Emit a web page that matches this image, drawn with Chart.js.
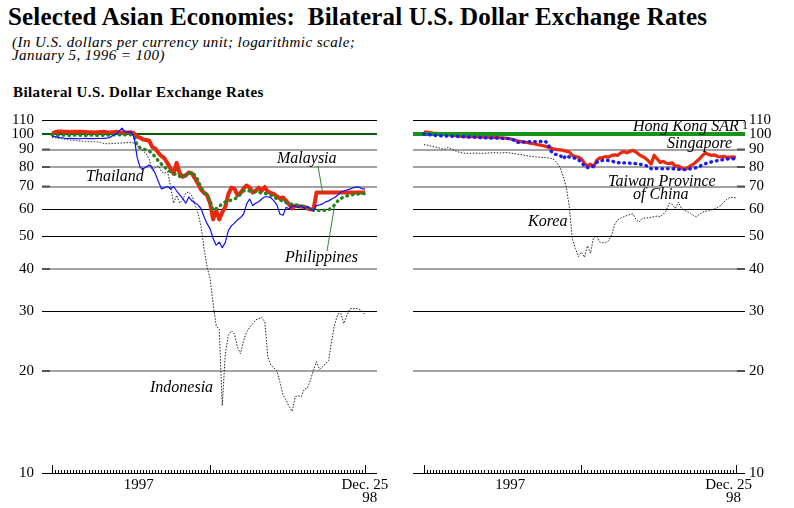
<!DOCTYPE html>
<html><head><meta charset="utf-8">
<script src="https://cdn.jsdelivr.net/npm/chart.js@4.4.1/dist/chart.umd.min.js"></script>
<style>
html,body{margin:0;padding:0;background:#fff;}
body{width:794px;height:508px;position:relative;overflow:hidden;font-family:"Liberation Serif","Times New Roman",serif;color:#000;}
canvas{position:absolute;top:0;}
.t{position:absolute;white-space:nowrap;line-height:1;}
.ann{position:absolute;white-space:nowrap;font-style:italic;font-size:16px;line-height:16px;}
</style></head>
<body>
<div class="t" style="left:8px;top:4px;font-size:25px;font-weight:bold;letter-spacing:0.15px;">Selected Asian Economies:&nbsp; Bilateral U.S. Dollar Exchange Rates</div>
<div class="t" style="left:12px;top:36px;font-size:15px;font-style:italic;line-height:13px;letter-spacing:0.45px;">(In U.S. dollars per currency unit; logarithmic scale;<br>January 5, 1996 = 100)</div>
<div class="t" style="left:13px;top:85px;font-size:15px;font-weight:bold;letter-spacing:0.4px;">Bilateral U.S. Dollar Exchange Rates</div>
<canvas id="leftChart" width="400" height="508" style="left:0px"></canvas>
<canvas id="rightChart" width="394" height="508" style="left:400px"></canvas>
<span class="ann" style="left:86px;top:168px;">Thailand</span>
<span class="ann" style="left:277px;top:150px;">Malaysia</span>
<span class="ann" style="left:285px;top:249px;">Philippines</span>
<span class="ann" style="left:150px;top:379px;">Indonesia</span>
<span class="ann" style="left:633px;top:118px;">Hong Kong SAR</span>
<span class="t" style="left:742px;top:119px;font-size:12px;line-height:12px;">1</span>
<span class="ann" style="left:667px;top:135px;">Singapore</span>
<span class="ann" style="left:608px;top:173px;">Taiwan Province</span>
<span class="ann" style="left:633px;top:186px;">of China</span>
<span class="ann" style="left:528px;top:213px;">Korea</span>
<script>
// ---- x categories: weekly observations, Jan 3 1997 (week 0) to Dec 25 1998 (week 103)
const weekIndex = Array.from({length: 104}, (_, i) => i);
const majorWeeks = [0, 52, 103];
const yearLabelWeek = 28.5;
const endLabelWeek = 103;
const yTickValues = [10, 20, 30, 40, 50, 60, 70, 80, 90, 100, 110];

// ---- left panel series
const thailand = [98.5,98.3,97.8,97.5,97.2,97.0,97.1,96.9,97.0,96.8,
 97.0,97.1,96.9,97.0,96.9,97.1,97.0,97.1,97.2,97.7,
 99.0,100.0,102.0,104.0,101.5,101.3,101.5,97.9,85.3,79.6,
 79.0,80.0,81.0,79.5,76.3,72.3,68.9,69.5,70.0,68.8,
 70.0,67.9,66.2,64.5,62.5,65.2,63.5,62.7,61.8,60.3,
 57.0,54.4,52.5,49.2,47.0,48.0,46.2,47.9,51.9,53.6,
 54.6,55.8,56.7,58.0,62.1,64.3,61.5,62.5,63.1,64.3,
 65.3,65.3,64.8,63.5,61.7,58.0,57.6,60.8,60.1,61.5,
 61.2,60.6,61.5,60.3,61.2,60.1,59.4,61.5,61.8,62.2,
 63.1,63.5,64.3,65.0,66.1,67.4,67.9,68.4,68.8,69.4,
 69.7,69.7,69.0,68.8];
const malaysia = [100.5,101.2,101.8,101.8,101.6,101.5,101.4,101.5,101.5,101.6,
 101.5,101.4,101.3,101.2,101.0,101.2,101.4,101.5,101.2,101.0,
 101.3,101.5,101.2,101.0,101.0,101.0,101.2,100.5,98.3,97.5,
 96.3,96.0,95.5,91.5,90.5,88.0,86.0,84.7,82.0,79.0,
 76.3,82.2,76.5,74.8,75.5,77.0,76.5,74.0,71.5,68.5,
 67.0,66.0,62.5,56.0,59.5,56.0,58.8,61.0,66.5,69.5,
 69.0,66.0,67.0,69.0,70.5,69.5,67.2,68.0,69.5,68.0,
 69.8,67.5,67.0,66.5,65.5,64.5,65.0,63.5,62.0,60.3,
 61.5,61.3,61.0,61.0,60.3,60.0,59.8,67.2,67.2,67.2,
 67.2,67.2,67.2,67.2,67.2,67.2,67.2,67.2,67.2,67.2,
 67.2,67.2,67.2,67.2];
const philippines = [99.5,99.3,99.2,99.2,99.3,99.2,99.1,99.2,99.3,99.2,
 99.2,99.1,99.2,99.3,99.2,99.2,99.1,99.2,99.3,99.4,
 99.5,99.4,99.5,99.5,99.4,99.5,99.5,98.5,92.5,91.0,
 90.3,89.8,89.0,87.5,85.5,83.3,81.5,80.0,78.6,77.3,
 76.5,75.8,75.0,74.5,76.0,76.7,77.0,75.5,73.0,69.5,
 67.5,66.3,63.5,59.5,60.2,61.0,62.5,63.0,63.5,63.8,
 64.3,65.0,66.5,67.9,68.2,67.9,67.5,67.5,67.3,67.0,
 66.8,66.5,66.0,65.2,64.5,64.0,63.3,62.8,62.4,62.0,
 61.8,61.6,61.4,61.0,60.7,60.3,59.7,59.6,59.5,59.5,
 59.6,59.8,60.6,61.8,63.5,64.5,65.2,65.7,66.0,66.3,
 66.5,66.6,66.7,66.7];
const indonesia = [97.8,97.5,97.2,96.9,96.6,96.3,96.0,95.8,95.6,95.4,
 95.3,95.2,95.1,95.0,94.9,94.8,94.5,93.8,93.6,93.7,
 93.8,93.9,94.0,94.1,94.2,94.3,94.5,94.0,92.5,90.5,
 89.0,87.5,84.0,78.0,79.5,80.6,77.5,76.5,77.5,70.0,
 62.5,66.0,62.5,64.0,67.0,67.5,65.7,62.0,58.5,53.5,
 46.0,40.5,37.5,31.5,27.2,26.5,15.8,22.5,25.5,26.3,
 25.7,23.5,22.5,24.6,26.0,26.9,27.6,28.3,28.5,28.8,
 27.9,22.0,20.8,20.4,20.0,18.5,17.0,16.4,15.7,15.2,
 16.8,16.9,16.8,17.7,17.8,18.8,20.1,21.3,20.2,20.6,
 21.0,21.5,24.6,27.5,29.4,29.6,27.6,29.2,30.5,30.6,
 30.6,30.4,30.0,29.3];

// ---- right panel series
const hongKongWeeks = [0, 26, 52, 78, 103];
const hongKong = [100.0, 100.0, 100.0, 100.0, 100.0];
const singapore = [101.4,101.3,101.0,100.7,100.5,100.3,100.0,99.8,99.6,99.3,
 99.0,98.8,98.5,98.4,98.3,98.3,98.2,98.2,98.1,98.0,
 98.0,97.9,97.8,97.8,97.8,97.6,97.5,97.2,97.0,96.5,
 96.0,95.3,95.0,94.7,94.5,94.0,93.6,93.3,92.9,92.5,
 92.1,91.5,91.0,90.2,90.0,89.8,89.5,89.0,88.5,86.5,
 85.8,85.5,84.5,82.0,80.5,81.5,80.0,83.5,85.0,85.2,
 85.8,85.5,86.5,86.8,86.5,88.0,88.8,88.0,88.8,89.5,
 88.5,87.0,86.0,85.0,83.5,81.5,86.5,84.5,82.5,83.0,
 82.0,81.8,82.2,80.3,80.5,79.5,78.6,79.5,80.5,81.5,
 83.0,84.5,86.5,88.0,87.0,86.5,86.8,85.8,85.6,86.0,
 85.3,85.5,85.6,85.4];
const taiwan = [100.0,99.8,99.5,99.3,99.0,98.9,98.8,98.7,98.6,98.5,
 98.5,98.4,98.3,98.2,98.1,98.0,98.0,97.9,97.8,97.6,
 97.5,97.4,97.3,97.4,97.3,97.2,97.1,97.0,96.9,96.8,
 95.5,94.5,94.6,94.8,94.9,94.9,94.9,95.0,95.0,95.1,
 95.3,93.5,89.0,87.2,87.0,86.5,84.5,86.5,85.5,85.0,
 84.9,84.0,82.5,80.5,79.6,80.0,80.5,82.5,83.2,83.6,
 83.8,83.5,83.2,82.7,82.2,82.5,82.2,82.3,82.0,81.9,
 81.8,81.5,81.2,80.8,80.3,79.0,79.0,79.2,79.1,79.0,
 79.1,79.0,79.0,78.9,78.7,78.6,78.5,78.7,79.0,79.2,
 79.6,80.3,81.1,81.8,82.4,82.8,83.2,83.5,83.8,84.1,
 84.4,84.5,84.5,84.5];
const korea = [93.0,92.8,92.2,91.8,91.5,91.0,90.5,90.2,91.3,90.5,
 89.5,88.8,88.2,87.8,87.8,87.7,87.8,87.9,87.8,87.7,
 87.8,87.9,88.0,88.1,88.0,87.9,88.0,88.2,88.0,87.8,
 87.5,87.2,87.0,86.6,86.3,86.0,85.8,85.6,85.5,85.3,
 85.2,85.0,84.8,84.0,82.0,79.5,75.0,69.8,61.0,49.0,
 46.0,43.5,44.8,43.3,46.8,44.5,49.5,50.0,48.0,47.8,
 47.8,48.5,50.5,54.2,55.8,56.5,57.0,57.5,57.9,58.1,
 56.0,55.0,56.3,56.5,56.6,56.8,57.0,57.3,57.0,58.0,
 59.4,62.5,62.0,60.3,63.0,60.3,59.6,59.0,58.4,57.5,
 57.0,58.0,58.8,59.2,59.5,59.7,60.2,60.8,61.5,63.0,
 64.2,65.0,65.0,64.8];

const toXY = (vals, xs) => vals.map((v, i) => ({x: (xs || weekIndex)[i], y: v}));
const FONT = '"Liberation Serif", "Times New Roman", serif';

const grayTicks = [90, 80, 70, 40, 20];
function gridColor(v, refColor) {
  if (v === 100) return refColor;
  return grayTicks.includes(v) ? '#a3a3a3' : '#000000';
}
function gridWidth(v, refWidth) {
  if (v === 100) return refWidth;
  return grayTicks.includes(v) ? 2 : 1;
}

function decorPlugin(side, extra) {
  return {
    id: 'decor' + side,
    beforeDatasetsDraw(chart) {
      const {ctx, chartArea, scales: {y}} = chart;
      ctx.save();
      ctx.strokeStyle = '#555';
      ctx.lineWidth = 2;
      ctx.beginPath();
      for (const v of grayTicks) {
        const py = y.getPixelForValue(v);
        if (side === 'L') { ctx.moveTo(chartArea.left, py); ctx.lineTo(chartArea.left + 8, py); }
        else { ctx.moveTo(chartArea.right - 8, py); ctx.lineTo(chartArea.right, py); }
      }
      ctx.stroke();
      ctx.restore();
    },
    afterDraw(chart) {
      const {ctx, chartArea, scales: {x}} = chart;
      ctx.save();
      ctx.strokeStyle = '#000';
      ctx.lineWidth = 1;
      ctx.beginPath();
      for (const w of weekIndex) {
        const px = Math.round(x.getPixelForValue(w)) + 0.5;
        const len = majorWeeks.includes(w) ? 8 : 3;
        ctx.moveTo(px, chartArea.bottom);
        ctx.lineTo(px, chartArea.bottom - len);
      }
      ctx.stroke();
      ctx.fillStyle = '#000';
      ctx.font = '15px ' + FONT;
      ctx.textBaseline = 'alphabetic';
      ctx.textAlign = 'center';
      ctx.fillText('1997', x.getPixelForValue(yearLabelWeek), chartArea.bottom + 16);
      const endPx = x.getPixelForValue(endLabelWeek);
      const r = endPx + (side === 'L' ? 23 : 16);
      ctx.textAlign = 'right';
      ctx.fillText('Dec. 25', r, chartArea.bottom + 16);
      ctx.fillText('98', r - 11, chartArea.bottom + 29);
      if (extra) extra(chart);
      ctx.restore();
    }
  };
}

function leaders(chart) {
  const {ctx, scales: {x, y}} = chart;
  ctx.strokeStyle = '#2e8b2e';
  ctx.lineWidth = 1;
  ctx.beginPath();
  ctx.moveTo(318, 166);
  ctx.lineTo(x.getPixelForValue(89), y.getPixelForValue(malaysia[89]));
  ctx.moveTo(327, 251);
  ctx.lineTo(x.getPixelForValue(93), y.getPixelForValue(philippines[93]));
  ctx.stroke();
}

function makeChart(id, datasets, cfg, plugin) {
  return new Chart(document.getElementById(id), {
    type: 'line',
    data: {datasets},
    options: {
      responsive: false,
      animation: false,
      devicePixelRatio: 1,
      layout: {padding: cfg.padding},
      plugins: {legend: {display: false}, tooltip: {enabled: false}, title: {display: false}},
      elements: {point: {radius: 0}, line: {tension: 0, borderJoinStyle: 'round'}},
      scales: {
        x: {type: 'linear', display: false, min: cfg.xMin, max: cfg.xMax},
        y: {
          type: 'logarithmic', position: cfg.yPos, min: 10, max: 110,
          afterBuildTicks: s => { s.ticks = yTickValues.map(v => ({value: v})); },
          afterFit: s => { s.width = cfg.yWidth; },
          border: {display: false},
          grid: {
            drawTicks: false,
            color: c => gridColor(c.tick ? c.tick.value : 0, cfg.refColor),
            lineWidth: c => gridWidth(c.tick ? c.tick.value : 0, cfg.refWidth)
          },
          ticks: {
            autoSkip: false, padding: cfg.tickPad, color: '#000',
            font: {family: FONT, size: 15},
            callback: v => String(v)
          }
        }
      }
    },
    plugins: [plugin]
  });
}

const dotStyle = {borderWidth: 3.4, borderDash: [0.6, 5], borderCapStyle: 'round'};

makeChart('leftChart', [
  {label: 'Thailand', data: toXY(thailand), borderColor: '#1010ff', borderWidth: 1.2},
  Object.assign({label: 'Philippines', data: toXY(philippines), borderColor: '#1f861f'}, dotStyle),
  {label: 'Malaysia', data: toXY(malaysia), borderColor: '#e8290e', borderWidth: 4},
  {label: 'Indonesia', data: toXY(indonesia), borderColor: '#222', borderWidth: 1, borderDash: [1.5, 1.5]}
], {padding: {left: 0, right: 23, top: 120, bottom: 35}, xMin: -3.3, xMax: 106.9, yPos: 'left', yWidth: 42, tickPad: 8, refColor: '#0b5a0b', refWidth: 2}, decorPlugin('L', leaders));

makeChart('rightChart', [
  Object.assign({label: 'Taiwan Province of China', data: toXY(taiwan), borderColor: '#1a1aff'}, dotStyle),
  {label: 'Hong Kong SAR', data: toXY(hongKong, hongKongWeeks), borderColor: '#179317', borderWidth: 4},
  {label: 'Singapore', data: toXY(singapore), borderColor: '#e8290e', borderWidth: 3.2},
  {label: 'Korea', data: toXY(korea), borderColor: '#222', borderWidth: 1, borderDash: [1.5, 1.5]}
], {padding: {left: 13, right: 0, top: 120, bottom: 35}, xMin: -3.6, xMax: 106.0, yPos: 'right', yWidth: 49, tickPad: 4, refColor: '#179317', refWidth: 4}, decorPlugin('R'));
</script>
</body></html>
